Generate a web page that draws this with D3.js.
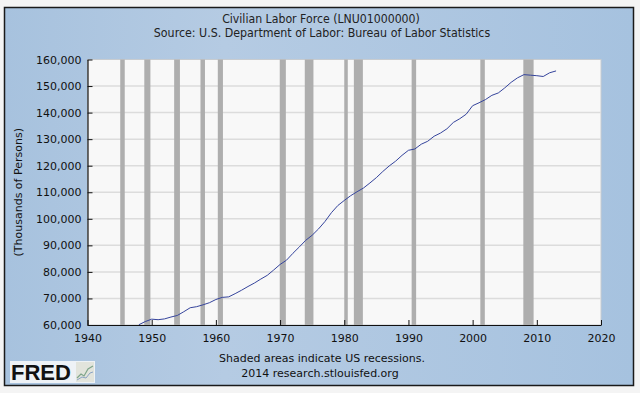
<!DOCTYPE html>
<html>
<head>
<meta charset="utf-8">
<script src="https://cdn.jsdelivr.net/npm/d3@7"></script>
<style>
  html, body { margin: 0; padding: 0; background: #f4f4f4; }
  svg { display: block; font-family: "DejaVu Sans", Verdana, sans-serif; }
</style>
</head>
<body>
<div id="chart"></div>
<script>
// annual values, thousands of persons
const years = [1948, 1949, 1950, 1951, 1952, 1953, 1954, 1955, 1956, 1957, 1958, 1959,
    1960, 1961, 1962, 1963, 1964, 1965, 1966, 1967, 1968, 1969, 1970, 1971, 1972, 1973,
    1974, 1975, 1976, 1977, 1978, 1979, 1980, 1981, 1982, 1983, 1984, 1985, 1986, 1987,
    1988, 1989, 1990, 1991, 1992, 1993, 1994, 1995, 1996, 1997, 1998, 1999, 2000, 2001,
    2002, 2003, 2004, 2005, 2006, 2007, 2008, 2009, 2010, 2011, 2012, 2013];
const laborForce = [60100, 61300, 62200, 62000, 62300, 63000, 63600, 65000, 66500, 66900,
    67600, 68400, 69600, 70400, 70600, 71800, 73100, 74500, 75800, 77300, 78700, 80700,
    82800, 84400, 87000, 89400, 91900, 93800, 96200, 99000, 102300, 105000, 106900, 108700,
    110200, 111600, 113500, 115500, 117800, 119900, 121700, 123900, 125800, 126300, 128100,
    129200, 131100, 132300, 133900, 136300, 137700, 139400, 142600, 143700, 144900, 146500,
    147400, 149300, 151400, 153100, 154300, 154100, 153900, 153600, 155000, 155700];

// recession start / end as decimal years
const recessionStart = [1945.1, 1948.85, 1953.5, 1957.6, 1960.3, 1969.95, 1973.85, 1980.0, 1981.5, 1990.5, 2001.2, 2007.9];
const recessionEnd   = [1945.8, 1949.8, 1954.4, 1958.3, 1961.1, 1970.9, 1975.2, 1980.55, 1982.9, 1991.2, 2001.9, 2009.5];

const xTicks = [1940, 1950, 1960, 1970, 1980, 1990, 2000, 2010, 2020];
const yTicks = [60000, 70000, 80000, 90000, 100000, 110000, 120000, 130000, 140000, 150000, 160000];

const titleText = "Civilian Labor Force (LNU01000000)";
const subtitleText = "Source: U.S. Department of Labor: Bureau of Labor Statistics";

document.addEventListener('DOMContentLoaded', () => {
    const width = 640, height = 393;
    const margin = { top: 59.5, right: 39, bottom: 68, left: 87.5 };
    const w = width - margin.left - margin.right;
    const h = height - margin.top - margin.bottom;

    const svg = d3.select("#chart").append("svg")
        .attr("width", width)
        .attr("height", height);

    const defs = svg.append("defs");
    const grad = defs.append("linearGradient").attr("id", "bg").attr("x1", 0).attr("x2", 1).attr("y1", 0).attr("y2", 0);
    grad.append("stop").attr("offset", "0%").attr("stop-color", "#a7c2de");
    grad.append("stop").attr("offset", "35%").attr("stop-color", "#b5cbe3");
    grad.append("stop").attr("offset", "100%").attr("stop-color", "#a6c2df");

    // panel
    svg.append("rect")
        .attr("x", 4.5).attr("y", 7.5)
        .attr("width", 629).attr("height", 378)
        .attr("fill", "url(#bg)")
        .attr("stroke", "#1a1a1a")
        .attr("stroke-width", 1.5);

    svg.append("text")
        .attr("x", 321).attr("y", 23)
        .attr("text-anchor", "middle")
        .style("font-family", "'DejaVu Sans Condensed', 'DejaVu Sans', sans-serif")
        .style("font-size", "12.2px")
        .attr("fill", "#222")
        .text(titleText);
    svg.append("text")
        .attr("x", 322).attr("y", 37)
        .attr("text-anchor", "middle")
        .style("font-family", "'DejaVu Sans Condensed', 'DejaVu Sans', sans-serif")
        .style("font-size", "12.3px")
        .attr("fill", "#222")
        .text(subtitleText);

    const x = d3.scaleLinear().domain([1940, 2020]).range([0, w]);
    const y = d3.scaleLinear().domain([60000, 160000]).range([h, 0]);

    const g = svg.append("g")
        .attr("transform", `translate(${margin.left},${margin.top})`);

    g.append("rect")
        .attr("width", w).attr("height", h)
        .attr("fill", "#f8f8f8")
        .attr("stroke", "#c8ccd0");

    // grid
    g.selectAll(".grid")
        .data(yTicks.slice(1, -1))
        .enter().append("line")
            .attr("x1", 0).attr("x2", w)
            .attr("y1", d => y(d)).attr("y2", d => y(d))
            .attr("stroke", "#dcdcdc")
            .attr("stroke-width", 1.5);

    // recession bars
    g.selectAll(".rec")
        .data(recessionStart)
        .enter().append("rect")
            .attr("x", d => x(d))
            .attr("width", (d, i) => x(recessionEnd[i]) - x(d))
            .attr("y", 0).attr("height", h)
            .attr("fill", "#aeaeae");

    const line = d3.line()
        .x((d, i) => x(years[i]))
        .y(d => y(d));

    g.append("path")
        .datum(laborForce)
        .attr("fill", "none")
        .attr("stroke", "#35449c")
        .attr("stroke-width", 1)
        .attr("d", line);

    const xAxis = g.append("g")
        .attr("transform", `translate(0,${h})`)
        .call(d3.axisBottom(x).tickValues(xTicks).tickFormat(d3.format("d")).tickSizeInner(-5).tickSizeOuter(0).tickPadding(9));
    const yAxis = g.append("g")
        .call(d3.axisLeft(y).tickValues(yTicks).tickFormat(d3.format(",")).tickSizeInner(-5).tickSizeOuter(0).tickPadding(6));

    [xAxis, yAxis].forEach(a => {
        a.select(".domain").attr("stroke", "#111").attr("stroke-width", 1.2);
        a.selectAll("line").attr("stroke", "#111");
        a.selectAll("text")
            .style("font-family", "'DejaVu Sans', Verdana, sans-serif")
            .style("font-size", "11px")
            .attr("fill", "#111");
    });

    svg.append("text")
        .attr("transform", `translate(22,${margin.top + h / 2}) rotate(-90)`)
        .attr("text-anchor", "middle")
        .style("font-size", "11px")
        .attr("fill", "#111")
        .text("(Thousands of Persons)");

    svg.append("text")
        .attr("x", 322).attr("y", 362)
        .attr("text-anchor", "middle")
        .style("font-size", "11px")
        .attr("fill", "#111")
        .text("Shaded areas indicate US recessions.");
    svg.append("text")
        .attr("x", 320).attr("y", 377)
        .attr("text-anchor", "middle")
        .style("font-size", "11px")
        .attr("fill", "#111")
        .text("2014 research.stlouisfed.org");

    // FRED logo
    const logo = svg.append("g");
    logo.append("rect")
        .attr("x", 10).attr("y", 361).attr("width", 85).attr("height", 22)
        .attr("fill", "#eef2f6");
    logo.append("text")
        .attr("x", 11).attr("y", 380)
        .style("font-family", "'Liberation Sans', Arial, sans-serif")
        .style("font-weight", "bold")
        .style("font-size", "22px")
        .attr("fill", "#111")
        .text("FRED");
    logo.append("rect")
        .attr("x", 76).attr("y", 362).attr("width", 18).attr("height", 20)
        .attr("fill", "#e2e4dc");
    logo.append("path")
        .attr("d", "M77,378 L81,374 L84,376 L88,369 L93,366")
        .attr("fill", "none").attr("stroke", "#7fa58a").attr("stroke-width", 1.2);
    logo.append("path")
        .attr("d", "M77,380 L82,377 L86,378 L90,373 L93,372")
        .attr("fill", "none").attr("stroke", "#8aa3c4").attr("stroke-width", 1);
});
</script>
</body>
</html>
